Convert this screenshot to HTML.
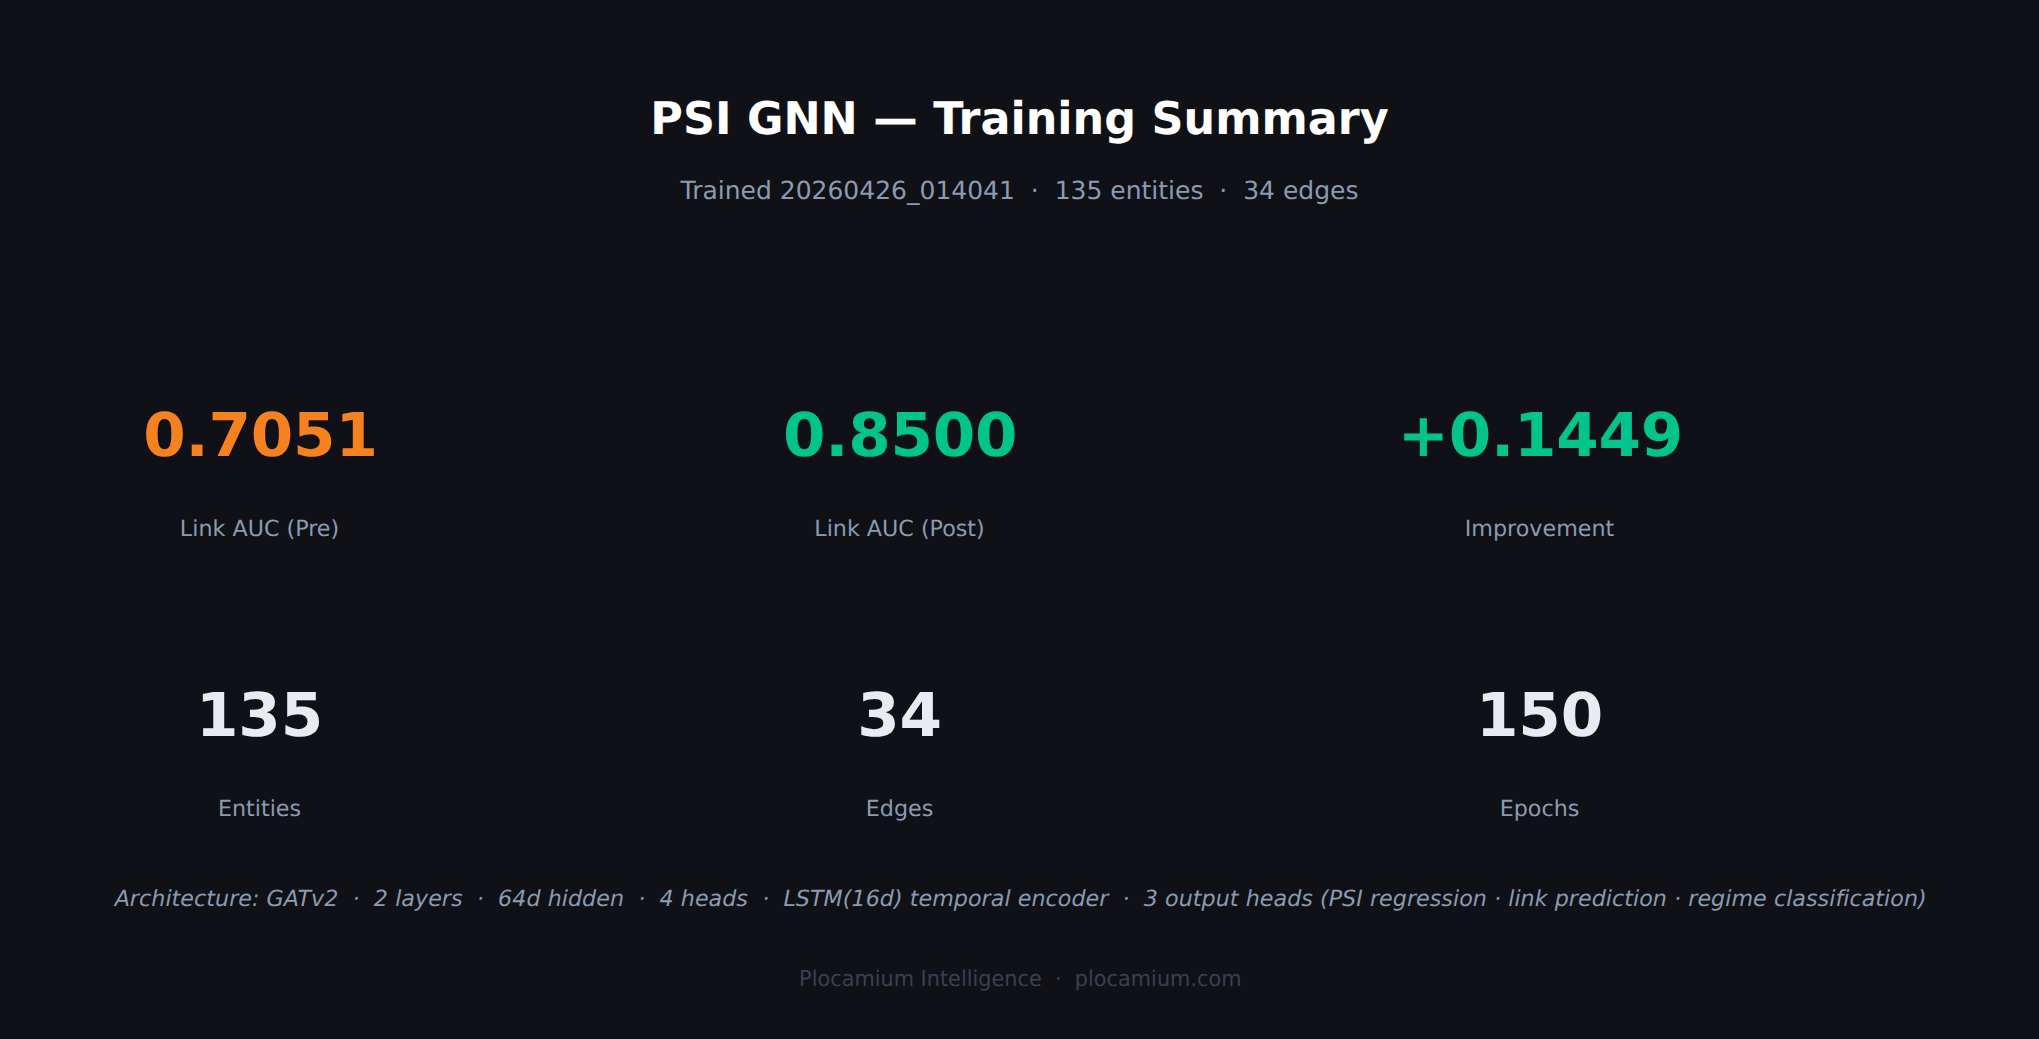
<!DOCTYPE html>
<html lang="en">
<head>
<meta charset="utf-8">
<title>PSI GNN — Training Summary</title>
<style>
html,body{margin:0;padding:0;background:#101116;}
body{width:2039px;height:1039px;position:relative;overflow:hidden;
  font-family:"DejaVu Sans","Liberation Sans",sans-serif;color:#fff;text-rendering:geometricPrecision;}
.t{position:absolute;white-space:pre;text-align:center;line-height:1;transform:translateX(-50%);margin:0;}
#title{left:1019.5px;top:98px;font-size:44.44px;transform:translateX(-50%) scaleY(1.0135);transform-origin:50% 84.6%;font-weight:bold;color:#ffffff;}
#sub{left:1019.5px;top:178px;font-size:25px;color:#8a9bb2;}
.big{font-size:61.11px;font-weight:bold;letter-spacing:-0.25px;transform:translateX(-50%) scaleY(0.988);transform-origin:50% 84.6%;}
.lab{font-size:22.22px;color:#8a9bb2;}
.or{color:#f5821f;}
.gr{color:#00c48c;}
.wh{color:#e8ebf1;}
#arch{left:1020.7px;top:888px;letter-spacing:0.03px;font-size:22.22px;font-style:italic;color:#8a9bb2;}
#foot{left:1020.3px;top:969px;font-size:20.83px;transform:translateX(-50%) scaleY(1.05);transform-origin:50% 84.6%;color:#394050;}
</style>
</head>
<body>
<h1 class="t" id="title">PSI GNN — Training Summary</h1>
<div class="t" id="sub">Trained 20260426_014041  ·  135 entities  ·  34 edges</div>

<div class="t big or" style="left:260.5px;top:405px;">0.7051</div>
<div class="t lab" style="left:259.5px;top:518px;">Link AUC (Pre)</div>
<div class="t big gr" style="left:900.2px;top:405px;">0.8500</div>
<div class="t lab" style="left:899.5px;top:518px;">Link AUC (Post)</div>
<div class="t big gr" style="left:1540.4px;top:405px;">+0.1449</div>
<div class="t lab" style="left:1539.5px;top:518px;">Improvement</div>

<div class="t big wh" style="left:259.5px;top:685px;">135</div>
<div class="t lab" style="left:259.5px;top:798px;">Entities</div>
<div class="t big wh" style="left:899.5px;top:685px;">34</div>
<div class="t lab" style="left:899.5px;top:798px;">Edges</div>
<div class="t big wh" style="left:1539.5px;top:685px;">150</div>
<div class="t lab" style="left:1539.5px;top:798px;">Epochs</div>

<div class="t" id="arch">Architecture: GATv2  ·  2 layers  ·  64d hidden  ·  4 heads  ·  LSTM(16d) temporal encoder  ·  3 output heads (PSI regression · link prediction · regime classification)</div>
<div class="t" id="foot">Plocamium Intelligence  ·  plocamium.com</div>
</body>
</html>
